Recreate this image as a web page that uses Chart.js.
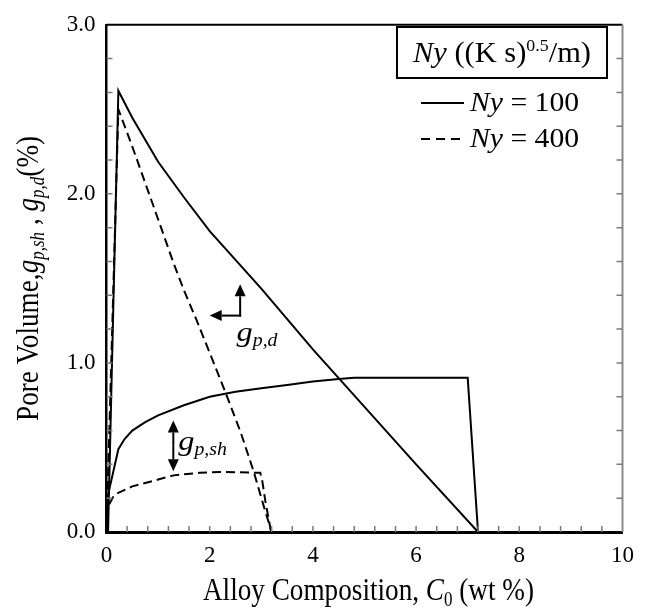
<!DOCTYPE html>
<html>
<head>
<meta charset="utf-8">
<script src="https://cdn.jsdelivr.net/npm/chart.js@4.4.0/dist/chart.umd.min.js"></script>
<style>
  body { margin: 0; background: #fff; }
  #wrap { width: 648px; height: 608px; }
</style>
</head>
<body>
<div id="wrap"><canvas id="poreChart" width="648" height="608"></canvas></div>
<script>
// pore volume vs alloy composition, two Ny values

// Ny = 100, g_p,d (solid)
const gpd100X = [0, 0.03, 0.23, 0.5, 1.0, 1.5, 2.0, 3.0, 4.0, 5.0, 6.0, 7.2, 10];
const gpd100Y = [0, 0, 2.61, 2.45, 2.19, 1.98, 1.78, 1.44, 1.08, 0.74, 0.40, 0, 0];
// Ny = 100, g_p,sh (solid)
const gsh100X = [0, 0.03, 0.23, 0.35, 0.5, 0.75, 1.0, 1.5, 2.0, 2.5, 3.0, 3.5, 4.0, 4.5, 4.8, 7.0, 7.2, 10];
const gsh100Y = [0, 0.22, 0.49, 0.55, 0.60, 0.65, 0.69, 0.75, 0.80, 0.83, 0.85, 0.87, 0.89, 0.905, 0.912, 0.912, 0, 0];
// Ny = 400, g_p,d (dashed)
const gpd400X = [0, 0.23, 0.5, 1.0, 1.3, 1.5, 1.75, 2.0, 2.3, 2.6, 2.85, 3.05, 3.2];
const gpd400Y = [0, 2.50, 2.28, 1.85, 1.59, 1.43, 1.25, 1.06, 0.83, 0.59, 0.36, 0.15, 0];
// Ny = 400, g_p,sh (dashed)
const gsh400X = [0, 0.03, 0.15, 0.5, 1.0, 1.3, 1.8, 2.2, 2.75, 2.98, 3.02, 3.08, 3.19];
const gsh400Y = [0, 0.15, 0.22, 0.27, 0.31, 0.335, 0.35, 0.355, 0.352, 0.35, 0.30, 0.18, 0];

const xTickValues = [0, 2, 4, 6, 8, 10];
const yTickValues = [0, 1, 2, 3];

const SERIF = 'Liberation Serif';
Chart.defaults.font.family = SERIF;

function toPoints(xs, ys) {
  return xs.map((x, i) => ({ x: x, y: ys[i] }));
}

function fontOf(p) {
  return (p.it ? 'italic ' : '') + p.size + 'px "' + SERIF + '", serif';
}

// draws a run of text pieces (roman / italic / sub / sup) side by side
function drawRich(ctx, parts, x, y, align) {
  let total = 0;
  parts.forEach(p => {
    ctx.font = fontOf(p);
    p.w = ctx.measureText(p.t).width * (p.sx || 1);
    total += p.w;
  });
  let cx = align === 'center' ? x - total / 2 : x;
  parts.forEach(p => {
    ctx.save();
    ctx.font = fontOf(p);
    ctx.textAlign = 'left';
    ctx.textBaseline = 'alphabetic';
    ctx.fillStyle = '#000';
    ctx.translate(cx, y + (p.dy || 0));
    ctx.scale(p.sx || 1, 1);
    ctx.fillText(p.t, 0, 0);
    ctx.restore();
    cx += p.w;
  });
}

function arrow(ctx, x1, y1, x2, y2) {
  const a = Math.atan2(y2 - y1, x2 - x1);
  const L = 12, W = 5.5;
  const bx = x2 - L * Math.cos(a), by = y2 - L * Math.sin(a);
  ctx.beginPath();
  ctx.moveTo(x1, y1);
  ctx.lineTo(bx, by);
  ctx.stroke();
  ctx.beginPath();
  ctx.moveTo(x2, y2);
  ctx.lineTo(bx + W * Math.sin(a), by - W * Math.cos(a));
  ctx.lineTo(bx - W * Math.sin(a), by + W * Math.cos(a));
  ctx.closePath();
  ctx.fill();
}

const decorPlugin = {
  id: 'decor',
  afterDraw(chart) {
    const ctx = chart.ctx;
    const xs = chart.scales.x, ys = chart.scales.y;
    const area = chart.chartArea;
    ctx.save();

    // top and right frame
    ctx.lineWidth = 2;
    ctx.strokeStyle = '#000';
    ctx.beginPath();
    ctx.moveTo(area.left, area.top);
    ctx.lineTo(area.right, area.top);
    ctx.stroke();
    ctx.strokeStyle = '#8a8a8a';
    ctx.beginPath();
    ctx.moveTo(area.right, area.top);
    ctx.lineTo(area.right, area.bottom);
    ctx.stroke();

    // inner minor ticks
    ctx.strokeStyle = '#7a7a7a';
    ctx.lineWidth = 1.5;
    for (let i = 1; i < 25; i++) {
      const px = xs.getPixelForValue(i * 0.4);
      ctx.beginPath();
      ctx.moveTo(px, area.bottom);
      ctx.lineTo(px, area.bottom - 6);
      ctx.stroke();
    }
    for (let i = 1; i < 15; i++) {
      const py = ys.getPixelForValue(i * 0.2);
      ctx.beginPath();
      ctx.moveTo(area.left, py);
      ctx.lineTo(area.left + 6, py);
      ctx.moveTo(area.right, py);
      ctx.lineTo(area.right - 6, py);
      ctx.stroke();
    }

    // axis titles
    drawRich(ctx, [
      { t: 'Alloy Composition, ', size: 32, sx: 0.85 },
      { t: 'C', size: 32, it: true, sx: 0.85 },
      { t: '0', size: 20, dy: 6, sx: 0.85 },
      { t: ' (wt %)', size: 32, sx: 0.85 }
    ], (area.left + area.right) / 2 + 4, 600, 'center');

    ctx.save();
    ctx.translate(38, (area.top + area.bottom) / 2);
    ctx.rotate(-Math.PI / 2);
    drawRich(ctx, [
      { t: 'Pore Volume,', size: 32, sx: 0.85 },
      { t: 'g', size: 32, it: true, sx: 0.85 },
      { t: 'p,sh', size: 20, it: true, dy: 6, sx: 0.85 },
      { t: ' , ', size: 32, sx: 0.85 },
      { t: 'g', size: 32, it: true, sx: 0.85 },
      { t: 'p,d', size: 20, it: true, dy: 6, sx: 0.85 },
      { t: '(%)', size: 32, sx: 0.85 }
    ], 0, 0, 'center');
    ctx.restore();

    // legend
    ctx.strokeStyle = '#000';
    ctx.lineWidth = 2;
    ctx.strokeRect(397, 27, 210, 51);
    drawRich(ctx, [
      { t: 'Ny', size: 29, it: true, sx: 1.05 },
      { t: ' ((K s)', size: 29, sx: 1.05 },
      { t: '0.5', size: 17, dy: -11, sx: 1.05 },
      { t: '/m)', size: 29, sx: 1.05 }
    ], 502, 62, 'center');

    ctx.lineWidth = 2;
    ctx.beginPath();
    ctx.moveTo(421, 103);
    ctx.lineTo(464, 103);
    ctx.stroke();
    drawRich(ctx, [
      { t: 'Ny', size: 27, it: true, sx: 1.1 },
      { t: ' = 100', size: 27, sx: 1.1 }
    ], 470, 111, 'left');

    ctx.setLineDash([9, 6]);
    ctx.beginPath();
    ctx.moveTo(421, 139);
    ctx.lineTo(464, 139);
    ctx.stroke();
    ctx.setLineDash([]);
    drawRich(ctx, [
      { t: 'Ny', size: 27, it: true, sx: 1.1 },
      { t: ' = 400', size: 27, sx: 1.1 }
    ], 470, 147, 'left');

    // g_p,d arrows and label
    ctx.fillStyle = '#000';
    ctx.lineWidth = 2;
    const cx = xs.getPixelForValue(2.59), cy = ys.getPixelForValue(1.28);
    arrow(ctx, cx, cy + 1, cx, ys.getPixelForValue(1.465));
    arrow(ctx, cx + 1, cy, xs.getPixelForValue(2.0), cy);
    drawRich(ctx, [
      { t: 'g', size: 27, it: true, sx: 1.2 },
      { t: 'p,d', size: 18, it: true, dy: 5, sx: 1.1 }
    ], xs.getPixelForValue(2.52), ys.getPixelForValue(1.13), 'left');

    // g_p,sh double arrow and label
    const sx = xs.getPixelForValue(1.295);
    const mid = ys.getPixelForValue(0.51);
    arrow(ctx, sx, mid, sx, ys.getPixelForValue(0.66));
    arrow(ctx, sx, mid, sx, ys.getPixelForValue(0.36));
    drawRich(ctx, [
      { t: 'g', size: 27, it: true, sx: 1.2 },
      { t: 'p,sh', size: 18, it: true, dy: 5, sx: 1.1 }
    ], xs.getPixelForValue(1.39), ys.getPixelForValue(0.486), 'left');

    ctx.restore();
  }
};

const lineStyle = { borderColor: '#000', borderWidth: 2, pointRadius: 0, showLine: true, tension: 0, fill: false };
const tickFont = { family: SERIF, size: 23 };

new Chart(document.getElementById('poreChart'), {
  type: 'scatter',
  data: {
    datasets: [
      Object.assign({ label: 'Ny = 100 g_p,d', data: toPoints(gpd100X, gpd100Y) }, lineStyle),
      Object.assign({ label: 'Ny = 100 g_p,sh', data: toPoints(gsh100X, gsh100Y) }, lineStyle),
      Object.assign({ label: 'Ny = 400 g_p,d', data: toPoints(gpd400X, gpd400Y), borderDash: [9, 5] }, lineStyle),
      Object.assign({ label: 'Ny = 400 g_p,sh', data: toPoints(gsh400X, gsh400Y), borderDash: [9, 5] }, lineStyle)
    ]
  },
  options: {
    responsive: false,
    animation: false,
    layout: { padding: { top: 15, right: 25.5, left: 0, bottom: 0 } },
    plugins: { legend: { display: false }, tooltip: { enabled: false } },
    scales: {
      x: {
        type: 'linear', min: 0, max: 10,
        afterBuildTicks: s => { s.ticks = xTickValues.map(v => ({ value: v })); },
        afterFit: s => { s.height = 76; },
        ticks: { font: tickFont, color: '#000', padding: 10, maxRotation: 0, callback: v => String(v) },
        grid: { display: false, drawTicks: false },
        border: { display: true, color: '#000', width: 3 }
      },
      y: {
        type: 'linear', min: 0, max: 3,
        afterBuildTicks: s => { s.ticks = yTickValues.map(v => ({ value: v })); },
        afterFit: s => { s.width = 106.5; },
        ticks: { font: tickFont, color: '#000', padding: 11, callback: v => Number(v).toFixed(1) },
        grid: { display: false, drawTicks: false },
        border: { display: true, color: '#000', width: 2.5 }
      }
    }
  },
  plugins: [decorPlugin]
});
</script>
</body>
</html>
